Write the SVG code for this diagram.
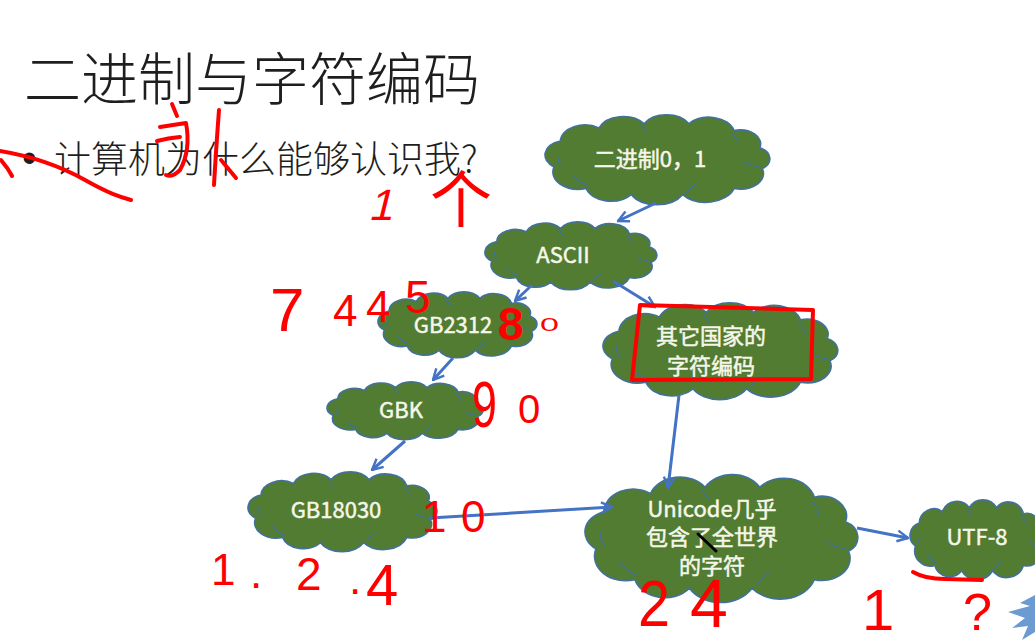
<svg xmlns="http://www.w3.org/2000/svg" xmlns:xlink="http://www.w3.org/1999/xlink" width="1035" height="641" viewBox="0 0 1035 641">
<style>
.cb{fill:#517c31;stroke:#41719c;stroke-width:1.6;vector-effect:non-scaling-stroke}
.ci{fill:none;stroke:#41719c;stroke-width:1.2;vector-effect:non-scaling-stroke}
.lbl{font-family:"Noto Sans CJK SC","Noto Sans",sans-serif;font-size:22px;fill:#f6f6ea;stroke:#f6f6ea;stroke-width:0.5;text-anchor:middle}
.conn{stroke:#4472c4;stroke-width:3;fill:none;marker-end:url(#ah)}
.red{stroke:#ff0000;stroke-width:4;fill:none;stroke-linecap:round;stroke-linejoin:round}
.hw{font-family:"Liberation Sans",sans-serif;fill:#ff0000}
.head{font-family:"Noto Sans CJK SC",sans-serif;fill:#1e1e1e;font-weight:300}
</style>
<defs>
<marker id="ah" viewBox="0 0 10 10" refX="9" refY="5" markerWidth="4.5" markerHeight="4.5" orient="auto">
<path d="M1,1 L9,5 L1,9" fill="none" stroke="#4472c4" stroke-width="1.8"/>
</marker>
<g id="cloud">
<path class="cb" d="M20,60 A17,17 0 0 1 25,30 A19,19 0 0 1 55,15 A20,20 0 0 1 90,10 A20,20 0 0 1 125,10 A20,20 0 0 1 160,18 A16,16 0 0 1 180,38 A14,14 0 0 1 182,62 A18,18 0 0 1 160,85 A23,23 0 0 1 120,92 A23,23 0 0 1 80,92 A20,20 0 0 1 45,85 A20,20 0 0 1 20,60 Z"/>
<path class="ci" d="M26,58 Q22,52 23,46 M47,82 Q38,77 35,70 M123,90 Q126,83 131,79 M158,21 Q163,27 163,33 M180,60 Q172,58 168,54 M88,12 Q90,17 93,20"/>
</g>
</defs>
<rect width="1035" height="641" fill="#ffffff"/>

<g id="title">
<text class="head" x="24" y="100" font-size="57">二进制与字符编码</text>
<text x="22" y="172" font-family="Liberation Sans,sans-serif" font-size="42" fill="#1e1e1e">•</text>
<text class="head" x="54" y="173" font-size="37">计算机为什么能够认识我?</text>
</g>

<g id="node-binary">
<use xlink:href="#cloud" transform="translate(528.3,115) scale(1.2857,0.8654)"/>
<text class="lbl" x="650" y="167">二进制0，1</text>
</g>
<g id="node-ascii">
<use xlink:href="#cloud" transform="translate(472.2,222) scale(0.9829,0.6538)"/>
<text class="lbl" x="563" y="263">ASCII</text>
</g>
<g id="node-gb2312">
<use xlink:href="#cloud" transform="translate(366.2,292) scale(0.9086,0.6346)"/>
<text class="lbl" x="453" y="333">GB2312</text>
</g>
<g id="node-other">
<use xlink:href="#cloud" transform="translate(585.5,303) scale(1.3429,0.9327)"/>
<text class="lbl" x="711" y="344" font-size="23">其它国家的</text>
<text class="lbl" x="711" y="374" font-size="23">字符编码</text>
</g>
<g id="node-gbk">
<use xlink:href="#cloud" transform="translate(315.4,382) scale(0.8914,0.5577)"/>
<text class="lbl" x="401" y="418">GBK</text>
</g>
<g id="node-gb18030">
<use xlink:href="#cloud" transform="translate(234,472) scale(1.08,0.7692)"/>
<text class="lbl" x="336" y="518">GB18030</text>
</g>
<g id="node-unicode">
<use xlink:href="#cloud" transform="translate(564.7,475) scale(1.56,1.2308)"/>
<text class="lbl" x="712" y="517" font-size="23">Unicode几乎</text>
<text class="lbl" x="712" y="545" font-size="23">包含了全世界</text>
<text class="lbl" x="712" y="574" font-size="23">的字符</text>
</g>
<g id="node-utf8">
<use xlink:href="#cloud" transform="translate(900,500) scale(0.7714,0.7692)"/>
<text class="lbl" x="977" y="545">UTF-8</text>
</g>

<g id="connectors">
<line class="conn" x1="656" y1="203" x2="618" y2="221"/>
<line class="conn" x1="532" y1="285" x2="515" y2="301"/>
<line class="conn" x1="613" y1="281" x2="655" y2="307"/>
<line class="conn" x1="453" y1="358" x2="433" y2="380"/>
<line class="conn" x1="405" y1="441" x2="372" y2="470"/>
<line class="conn" x1="430" y1="518" x2="612" y2="507"/>
<line class="conn" x1="679" y1="395" x2="668" y2="488"/>
<line class="conn" x1="857" y1="528" x2="908" y2="538"/>
</g>

<g id="annotations">
<path class="red" d="M0,151 C30,156 60,166 85,180 S120,197 131,200"/>
<path class="red" d="M1,160 Q8,168 12,176"/>
<path class="red" d="M172,104 L177,116 M160,127 L186,123 Q191,150 180,170 Q172,178 166,175 M157,141 Q168,138 180,137"/>
<path class="red" d="M219,110 Q216,150 214,185 M221,160 L236,178"/>
<text class="hw" font-size="44" transform="translate(368,220) skewX(-14)">1</text>
<text x="430" y="223" font-size="62" fill="#ff0000" font-family="Noto Sans CJK SC,sans-serif">个</text>
<text class="hw" font-size="62" x="270" y="331">7</text>
<text class="hw" font-size="44" x="333" y="326">4</text>
<text class="hw" font-size="44" x="366" y="322">4</text>
<text class="hw" font-size="46" x="405" y="313">5</text>
<text class="hw" font-size="46" font-weight="bold" x="498" y="340">8</text>
<text class="hw" font-size="20" transform="translate(540,331) scale(1.7,0.9)">0</text>
<text class="hw" font-size="64" transform="translate(472,427) scale(0.7,1)">9</text>
<text class="hw" font-size="40" x="518" y="423">0</text>
<text class="hw" font-size="44" x="422" y="532">1</text>
<text class="hw" font-size="44" x="461" y="532">0</text>
<text class="hw" font-size="44" x="211" y="585">1</text>
<text class="hw" font-size="44" x="250" y="588">.</text>
<text class="hw" font-size="46" x="296" y="590">2</text>
<text class="hw" font-size="44" x="349" y="594">.</text>
<text class="hw" font-size="58" x="366" y="605">4</text>
<text class="hw" font-size="64" transform="translate(638,626) scale(0.9,1)">2</text>
<text class="hw" font-size="68" x="690" y="627">4</text>
<text class="hw" font-size="58" x="862" y="630">1</text>
<text class="hw" font-size="52" x="963" y="630">?</text>
<path class="red" d="M913,572 Q925,579 945,579 L982,580"/>
<path class="red" d="M640,305 L813,310 L811,379 L632,380 Z"/>
<path d="M698,534 L716,551" stroke="#000" stroke-width="3" stroke-linecap="round"/>
<path d="M1035,595 L1020,603 L1030,606 L1008,612 L1025,618 L1012,628 L1028,626 L1022,640 L1035,632 Z" fill="#6b9bd1"/>
</g>
</svg>
